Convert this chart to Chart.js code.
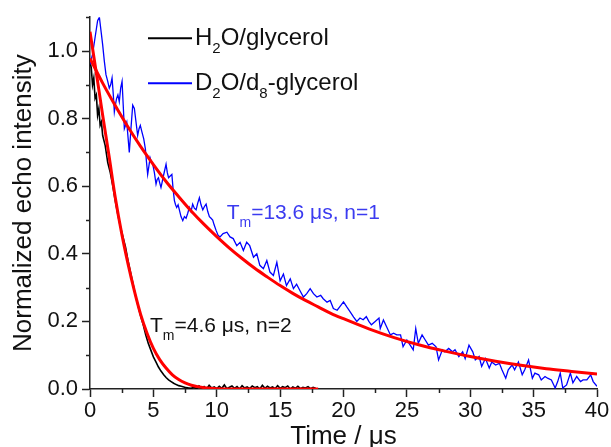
<!DOCTYPE html>
<html>
<head>
<meta charset="utf-8">
<script src="https://cdn.jsdelivr.net/npm/chart.js@4.4.0/dist/chart.umd.min.js"></script>
<style>
  html, body { margin: 0; padding: 0; background: #fff; overflow: hidden; }
  canvas { display: block; }
</style>
</head>
<body>
<canvas id="grafico" width="611" height="447"></canvas>
<script>
// dados (tempo em us, intensidade normalizada)
const tempoAzul = [0, 0.2, 0.4, 0.6, 0.74, 0.9, 1.0, 1.13, 1.26, 1.4, 1.52, 1.63, 1.74, 1.84, 1.92, 2.0, 2.1, 2.2, 2.31, 2.42,
  2.53, 2.62, 2.71, 2.9, 3.1, 3.23, 3.37, 3.5, 3.63, 3.76, 3.87, 3.97, 4.1, 4.24, 4.37, 4.46, 4.55, 4.65, 4.74, 4.85,
  4.95, 5.08, 5.21, 5.3, 5.4, 5.5, 5.6, 5.68, 5.76, 5.88, 6.0, 6.1, 6.2, 6.33, 6.46, 6.56, 6.66, 6.75, 6.84, 6.95,
  7.05, 7.18, 7.32, 7.45, 7.58, 7.71, 7.84, 7.97, 8.1, 8.23, 8.37, 8.5, 8.63, 8.76, 8.9, 9.03, 9.16, 9.29, 9.42, 9.55,
  9.68, 9.8, 9.94, 10.1, 10.26, 10.5, 10.8, 11.05, 11.3, 11.58, 11.84, 12.1, 12.36, 12.6, 12.9, 13.16, 13.4, 13.68, 13.95, 14.2,
  14.47, 14.74, 15.0, 15.26, 15.5, 15.8, 16.05, 16.3, 16.58, 16.84, 17.1, 17.37, 17.63, 17.9, 18.2, 18.4, 18.7, 18.95, 19.2, 19.5,
  19.7, 20.0, 20.26, 20.5, 20.8, 21.05, 21.3, 21.55, 21.8, 22.0, 22.2, 22.5, 22.8, 22.9, 23.15, 23.4, 23.7, 23.95, 24.2, 24.5,
  24.7, 25.0, 25.26, 25.5, 25.7, 25.9, 26.2, 26.45, 26.7, 27.0, 27.3, 27.5, 27.8, 28.0, 28.3, 28.6, 28.8, 29.1, 29.4, 29.6,
  29.9, 30.2, 30.4, 30.7, 30.9, 31.2, 31.5, 31.7, 32.0, 32.3, 32.5, 32.8, 33.0, 33.3, 33.5, 33.8, 34.1, 34.3, 34.6, 34.9,
  35.1, 35.4, 35.6, 35.9, 36.1, 36.4, 36.7, 36.9, 37.1, 37.3, 37.6, 37.9, 38.1, 38.4, 38.7, 38.9, 39.2, 39.5, 39.7, 40.0];
const ecoAzul = [0.96, 0.99, 1.04, 1.09, 1.10, 1.05, 1.018, 0.97, 0.93, 0.91, 0.89, 0.90, 0.92, 0.87, 0.82, 0.84, 0.86, 0.87, 0.85, 0.89,
  0.91, 0.84, 0.77, 0.79, 0.70, 0.77, 0.84, 0.83, 0.79, 0.75, 0.77, 0.78, 0.76, 0.74, 0.71, 0.67, 0.635, 0.66, 0.684, 0.67,
  0.665, 0.64, 0.606, 0.62, 0.625, 0.61, 0.596, 0.61, 0.625, 0.645, 0.665, 0.64, 0.625, 0.63, 0.635, 0.59, 0.557, 0.545, 0.537, 0.545,
  0.53, 0.51, 0.498, 0.51, 0.505, 0.52, 0.537, 0.525, 0.547, 0.535, 0.53, 0.55, 0.566, 0.545, 0.53, 0.54, 0.547, 0.525, 0.51, 0.505,
  0.50, 0.485, 0.47, 0.455, 0.45, 0.46, 0.464, 0.45, 0.445, 0.424, 0.434, 0.41, 0.434, 0.424, 0.39, 0.40, 0.366, 0.356, 0.38, 0.346,
  0.336, 0.375, 0.32, 0.34, 0.306, 0.326, 0.297, 0.31, 0.29, 0.272, 0.282, 0.297, 0.282, 0.272, 0.277, 0.267, 0.257, 0.262, 0.238, 0.233,
  0.243, 0.258, 0.243, 0.23, 0.213, 0.20, 0.21, 0.205, 0.214, 0.20, 0.19, 0.20, 0.21, 0.179, 0.204, 0.184, 0.16, 0.165, 0.16, 0.16,
  0.125, 0.145, 0.13, 0.116, 0.179, 0.135, 0.16, 0.145, 0.13, 0.135, 0.125, 0.086, 0.116, 0.11, 0.12, 0.11, 0.116, 0.096, 0.11, 0.09,
  0.13, 0.11, 0.086, 0.096, 0.067, 0.09, 0.062, 0.08, 0.071, 0.076, 0.057, 0.032, 0.057, 0.071, 0.057, 0.08, 0.042, 0.057, 0.086, 0.032,
  0.047, 0.042, 0.027, 0.037, 0.032, 0.027, 0.003, 0.022, 0.047, 0.003, 0.012, 0.047, 0.018, 0.037, 0.022, 0.027, 0.027, 0.042, 0.022, 0.008];

const tempoPreto = [0, 0.1, 0.2, 0.3, 0.4, 0.5, 0.6, 0.7, 0.8, 0.9, 1.0, 1.2, 1.4, 1.6, 1.8, 2.0, 2.2, 2.4, 2.6, 2.8,
  3.0, 3.2, 3.4, 3.6, 3.8, 4.0, 4.2, 4.4, 4.6, 4.8, 5.0, 5.2, 5.4, 5.6, 5.8, 6.0, 6.2, 6.4, 6.6, 6.8,
  7.0, 7.2, 7.4, 7.6, 7.8, 8.0, 8.2, 8.4, 8.6, 8.8, 9.0, 9.2, 9.4, 9.6, 9.8, 10.0, 10.2, 10.4, 10.6, 10.8,
  11.0, 11.2, 11.4, 11.6, 11.8, 12.0, 12.2, 12.4, 12.6, 12.8, 13.0, 13.2, 13.4, 13.6, 13.8, 14.0, 14.2, 14.4, 14.6, 14.8,
  15.0, 15.2, 15.4, 15.6, 15.8, 16.0, 16.2, 16.4, 16.6, 16.8, 17.0, 17.2, 17.4, 17.6, 17.8];
const ecoPreto = [0.97, 0.95, 0.90, 0.92, 0.86, 0.87, 0.81, 0.83, 0.78, 0.79, 0.75, 0.72, 0.67, 0.64, 0.60, 0.555, 0.515, 0.48, 0.45, 0.42,
  0.38, 0.345, 0.31, 0.275, 0.245, 0.215, 0.19, 0.16, 0.135, 0.115, 0.095, 0.08, 0.065, 0.053, 0.043, 0.034, 0.027, 0.022, 0.017, 0.013,
  0.010, 0.008, 0.006, 0.004, 0.003, 0.002, 0.006, 0.001, 0.009, 0.002, 0.007, 0.000, 0.011, 0.003, 0.006, 0.001, 0.008, 0.002, 0.012, 0.001,
  0.005, 0.009, 0.002, 0.007, 0.000, 0.010, 0.003, 0.006, 0.001, 0.009, 0.004, 0.007, 0.000, 0.011, 0.002, 0.008, 0.003, 0.006, 0.001, 0.010,
  0.002, 0.007, 0.004, 0.009, 0.000, 0.006, 0.002, 0.008, 0.001, 0.005, 0.003, 0.007, 0.001, 0.005, 0.002];

// curvas de ajuste (vermelhas)
const tempoAjusteLento = [0, 1, 2, 3, 4, 5, 6, 7, 8, 9, 10, 11, 12, 13, 14, 15, 16, 17, 18, 19, 20, 22, 24, 26, 28, 30, 32, 34, 36, 38, 40];
const ajusteLento = [0.978, 0.905, 0.838, 0.775, 0.717, 0.664, 0.614, 0.569, 0.526, 0.487, 0.451, 0.417, 0.386, 0.357, 0.331, 0.306,
  0.283, 0.262, 0.243, 0.224, 0.208, 0.178, 0.152, 0.130, 0.112, 0.096, 0.082, 0.070, 0.060, 0.052, 0.044];
const tempoAjusteRapido = [0, 0.5, 1, 1.5, 2, 2.5, 3, 3.5, 4, 4.5, 5, 5.5, 6, 6.5, 7, 7.5, 8, 8.5, 9, 10, 11, 12, 14, 16, 18];
const ajusteRapido = [1.057, 0.935, 0.81, 0.69, 0.565, 0.46, 0.37, 0.29, 0.22, 0.165, 0.12, 0.087, 0.062, 0.042, 0.028, 0.018,
  0.011, 0.007, 0.004, 0.001, 0, 0, 0, 0, 0];

const FONTE = '"Liberation Sans", Arial, Helvetica, sans-serif';

function pares(xs, ys) {
    return xs.map((x, i) => ({ x: x, y: ys[i] }));
}

// desenha texto com partes subscritas, ex: [['H'], ['2', true], ['O/glycerol']]
function textoComIndice(ctx, partes, x, y, tam, tamSub, cor) {
    let cx = x;
    ctx.fillStyle = cor;
    ctx.textBaseline = 'alphabetic';
    ctx.textAlign = 'left';
    partes.forEach(([txt, sub]) => {
        ctx.font = (sub ? tamSub : tam) + 'px ' + FONTE;
        ctx.fillText(txt, cx, sub ? y + 8 : y);
        cx += ctx.measureText(txt).width;
    });
}

const extras = {
    id: 'extras',
    afterDraw(chart) {
        const ctx = chart.ctx;
        const { x, y } = chart.scales;
        const area = chart.chartArea;
        ctx.save();

        // ticks menores (mais curtos)
        ctx.strokeStyle = '#222';
        ctx.lineWidth = 1.5;
        x.ticks.forEach(t => {
            if (t.value % 5 !== 0) {
                const px = Math.round(x.getPixelForValue(t.value)) + 0.5;
                ctx.beginPath();
                ctx.moveTo(px, area.bottom);
                ctx.lineTo(px, area.bottom + 4);
                ctx.stroke();
            }
        });
        y.ticks.forEach(t => {
            if (Math.round(t.value * 10) % 2 !== 0) {
                const py = Math.round(y.getPixelForValue(t.value)) + 0.5;
                ctx.beginPath();
                ctx.moveTo(area.left - 4, py);
                ctx.lineTo(area.left, py);
                ctx.stroke();
            }
        });

        // legenda
        const lx = area.left + 58;
        ctx.lineWidth = 2;
        ctx.strokeStyle = '#000';
        ctx.beginPath();
        ctx.moveTo(lx, area.top + 21);
        ctx.lineTo(lx + 44, area.top + 21);
        ctx.stroke();
        ctx.strokeStyle = '#0000ff';
        ctx.beginPath();
        ctx.moveTo(lx, area.top + 66);
        ctx.lineTo(lx + 44, area.top + 66);
        ctx.stroke();
        textoComIndice(ctx, [['H'], ['2', true], ['O/glycerol']], lx + 47, area.top + 28, 24, 15, '#111');
        textoComIndice(ctx, [['D'], ['2', true], ['O/d'], ['8', true], ['-glycerol']], lx + 47, area.top + 73, 24, 15, '#111');

        // anotacoes dos ajustes
        textoComIndice(ctx, [['T'], ['m', true], ['=13.6 \u03bcs, n=1']],
            x.getPixelForValue(10.78), y.getPixelForValue(0.502), 21, 14, '#3b3bf0');
        textoComIndice(ctx, [['T'], ['m', true], ['=4.6 \u03bcs, n=2']],
            x.getPixelForValue(4.73), y.getPixelForValue(0.168), 21, 14, '#111');

        ctx.restore();
    }
};

function renderGraficoEco(ctx) {
    return new Chart(ctx, {
        type: 'line',
        data: {
            datasets: [{
                label: 'ajuste rapido',
                data: pares(tempoAjusteRapido, ajusteRapido),
                borderColor: '#ff0000',
                borderWidth: 3,
                cubicInterpolationMode: 'monotone',
                order: 0
            }, {
                label: 'ajuste lento',
                data: pares(tempoAjusteLento, ajusteLento),
                borderColor: '#ff0000',
                borderWidth: 3,
                cubicInterpolationMode: 'monotone',
                order: 0
            }, {
                label: 'D2O/d8-glycerol',
                data: pares(tempoAzul, ecoAzul),
                borderColor: '#0000ff',
                borderWidth: 1.3,
                order: 1
            }, {
                label: 'H2O/glycerol',
                data: pares(tempoPreto, ecoPreto),
                borderColor: '#000000',
                borderWidth: 1.6,
                order: 2
            }]
        },
        options: {
            responsive: false,
            animation: false,
            devicePixelRatio: 1,
            events: [],
            layout: {
                padding: { top: 15, right: 14, left: 0, bottom: 0 }
            },
            elements: {
                point: { radius: 0 },
                line: { tension: 0, fill: false }
            },
            plugins: {
                legend: { display: false },
                tooltip: { enabled: false }
            },
            scales: {
                x: {
                    type: 'linear',
                    min: 0,
                    max: 40,
                    afterFit(scale) { scale.height = 58; },
                    border: { display: true, color: '#222', width: 1.5 },
                    grid: {
                        drawOnChartArea: false,
                        tickLength: 8,
                        tickWidth: 1.5,
                        tickColor: c => (c.tick && c.tick.value % 5 === 0) ? '#222' : 'rgba(0,0,0,0)'
                    },
                    ticks: {
                        stepSize: 2.5,
                        padding: 1,
                        maxRotation: 0,
                        autoSkip: false,
                        color: '#111',
                        font: { family: FONTE, size: 22 },
                        callback: v => (v % 5 === 0 ? String(v) : '')
                    },
                    title: {
                        display: true,
                        text: 'Time / \u03bcs',
                        color: '#111',
                        padding: 0,
                        font: { family: FONTE, size: 26, lineHeight: 0.76 }
                    }
                },
                y: {
                    min: 0,
                    max: 1.1,
                    afterFit(scale) { scale.width = 90; },
                    border: { display: true, color: '#222', width: 1.5 },
                    grid: {
                        drawOnChartArea: false,
                        tickLength: 8,
                        tickWidth: 1.5,
                        tickColor: c => (c.tick && Math.round(c.tick.value * 10) % 2 === 0) ? '#222' : 'rgba(0,0,0,0)'
                    },
                    ticks: {
                        stepSize: 0.1,
                        padding: 4,
                        autoSkip: false,
                        color: '#111',
                        font: { family: FONTE, size: 22 },
                        callback: v => (Math.round(v * 10) % 2 === 0 ? v.toFixed(1) : '')
                    },
                    title: {
                        display: true,
                        text: 'Normalized echo intensity',
                        color: '#111',
                        padding: { top: 14, bottom: 0 },
                        font: { family: FONTE, size: 26, lineHeight: 0.76 }
                    }
                }
            }
        },
        plugins: [extras]
    });
}

renderGraficoEco(document.getElementById('grafico'));
</script>
</body>
</html>
